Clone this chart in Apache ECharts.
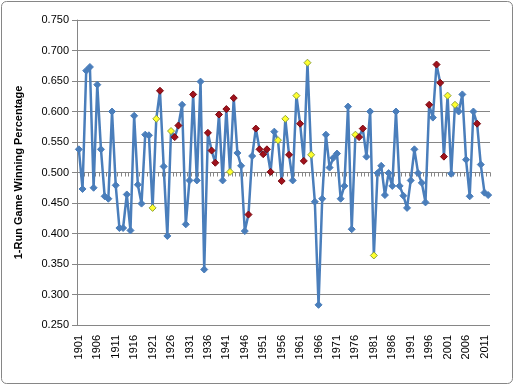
<!DOCTYPE html>
<html><head><meta charset="utf-8">
<script src="https://cdn.jsdelivr.net/npm/echarts@6/dist/echarts.min.js"></script>
<style>html,body{margin:0;padding:0;background:#fff}#c{width:515px;height:386px}</style>
</head><body><div id="c"></div>
<script>
const years = [
'1901','1902','1903','1904','1905','1906','1907','1908','1909','1910',
'1911','1912','1913','1914','1915','1916','1917','1918','1919','1920',
'1921','1922','1923','1924','1925','1926','1927','1928','1929','1930',
'1931','1932','1933','1934','1935','1936','1937','1938','1939','1940',
'1941','1942','1943','1944','1945','1946','1947','1948','1949','1950',
'1951','1952','1953','1954','1955','1956','1957','1958','1959','1960',
'1961','1962','1963','1964','1965','1966','1967','1968','1969','1970',
'1971','1972','1973','1974','1975','1976','1977','1978','1979','1980',
'1981','1982','1983','1984','1985','1986','1987','1988','1989','1990',
'1991','1992','1993','1994','1995','1996','1997','1998','1999','2000',
'2001','2002','2003','2004','2005','2006','2007','2008','2009','2010',
'2011','2012'];
const winPct = [
0.538,0.473,0.667,0.673,0.475,0.644,0.538,0.461,0.457,0.600,
0.479,0.409,0.409,0.464,0.405,0.593,0.480,0.449,0.562,0.561,
0.442,0.588,0.634,0.510,0.396,0.568,0.558,0.577,0.611,0.415,
0.487,0.628,0.487,0.649,0.341,0.565,0.536,0.516,0.595,0.487,
0.604,0.501,0.622,0.532,0.511,0.404,0.431,0.527,0.572,0.538,
0.530,0.538,0.501,0.567,0.553,0.486,0.588,0.529,0.487,0.626,
0.580,0.519,0.680,0.529,0.452,0.283,0.457,0.562,0.508,0.524,
0.531,0.457,0.478,0.608,0.407,0.562,0.558,0.572,0.526,0.600,
0.364,0.499,0.511,0.463,0.499,0.478,0.600,0.478,0.462,0.442,
0.487,0.538,0.499,0.483,0.451,0.611,0.590,0.677,0.647,0.526,
0.626,0.498,0.611,0.600,0.628,0.521,0.461,0.600,0.580,0.513,
0.467,0.463];
// marker category per season: b = regular, r = red, y = yellow
const markerType = [
'b','b','b','b','b','b','b','b','b','b',
'b','b','b','b','b','b','b','b','b','b',
'y','y','r','b','b','y','r','r','b','b',
'b','r','b','b','b','r','r','r','r','b',
'r','y','r','b','b','b','r','b','r','r',
'r','r','r','b','y','r','y','r','b','y',
'r','r','y','y','b','b','b','b','b','b',
'b','b','b','b','b','y','r','r','b','b',
'y','b','b','b','b','b','b','b','b','b',
'b','b','b','b','b','r','b','r','r','r',
'y','b','y','b','b','b','b','b','r','b',
'b','b'];
const yTicks = ['0.250','0.300','0.350','0.400','0.450','0.500','0.550','0.600','0.650','0.700','0.750'];

const styles = {
  b: {color:'#4A7EBB', borderColor:'#4A7EBB', borderWidth:1},
  r: {color:'#A0121C', borderColor:'#7A0A10', borderWidth:1},
  y: {color:'#FFFF2E', borderColor:'#8FA33A', borderWidth:1}
};
const data = winPct.map((v,i)=>({value:v, itemStyle: styles[markerType[i]]}));
const gridTop = 20, gridBottom = 61, H = 386;
const plotH = H - gridTop - gridBottom;
const lbl = {fontFamily:'Liberation Sans', fontSize:11, color:'#000'};

const chart = echarts.init(document.getElementById('c'), null, {renderer:'canvas'});
chart.setOption({
  animation:false,
  backgroundColor:'#fff',
  graphic:[{type:'rect', shape:{x:1.5,y:1.5,width:511,height:382,r:5}, style:{fill:'none', stroke:'#868686', lineWidth:1}, z:-1}],
  grid:{left:77, right:25, top:gridTop, bottom:gridBottom},
  xAxis:[{
    type:'category', data:years, boundaryGap:true, position:'bottom',
    axisLine:{show:false}, axisTick:{show:false},
    axisLabel:Object.assign({interval:4, rotate:90, margin:10}, lbl),
    splitLine:{show:false}
  },{
    type:'category', data:years, boundaryGap:true, position:'bottom',
    offset: -plotH*(0.5-0.25)/0.5,
    axisLine:{show:true, lineStyle:{color:'#868686', width:1}},
    axisTick:{show:true, interval:0, length:4, lineStyle:{color:'#868686'}},
    axisLabel:{show:false}, splitLine:{show:false}
  }],
  yAxis:{
    type:'value', min:0.25, max:0.75, interval:0.05,
    name:'1-Run Game Winning Percentage', nameLocation:'middle', nameGap:53,
    nameTextStyle:{fontFamily:'Liberation Sans', fontSize:11, fontWeight:'bold', color:'#000'},
    axisLine:{show:true, lineStyle:{color:'#868686'}},
    axisTick:{show:true, length:5, lineStyle:{color:'#868686'}},
    axisLabel:Object.assign({margin:8, formatter:(v)=>{const i=Math.round((v-0.25)/0.05); return yTicks[i];}}, lbl),
    splitLine:{show:true, lineStyle:{color:'#868686', width:1}}
  },
  series:[{
    type:'line', xAxisIndex:0, data:data,
    symbol:'diamond', symbolSize:7, showAllSymbol:true,
    lineStyle:{color:'#4A7EBB', width:2.5},
    itemStyle:{color:'#4A7EBB'},
    z:5
  }]
});
</script></body></html>
